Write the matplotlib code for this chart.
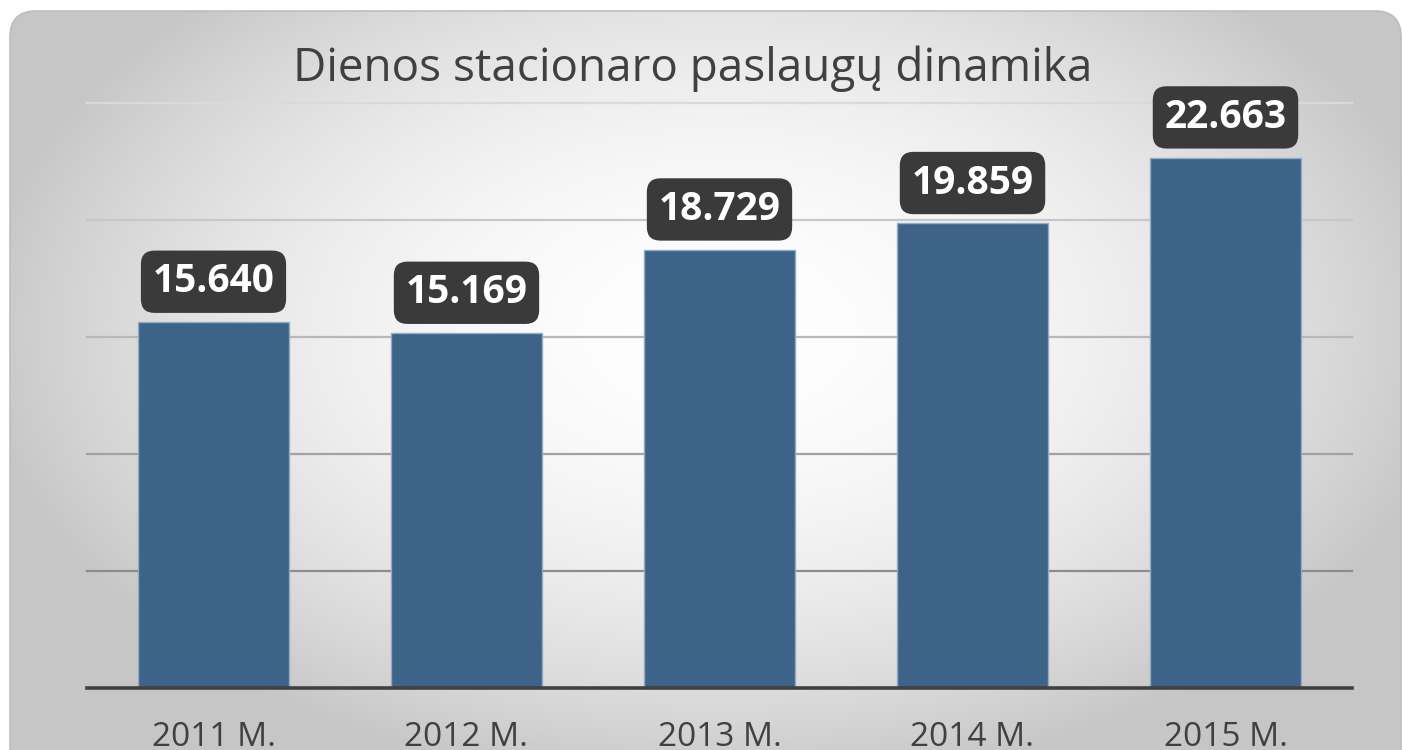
import matplotlib.pyplot as plt
import numpy as np
from matplotlib.patches import FancyBboxPatch

# data
years = ["2011 M.", "2012 M.", "2013 M.", "2014 M.", "2015 M."]
values = [15640, 15169, 18729, 19859, 22663]
labels = ["15.640", "15.169", "18.729", "19.859", "22.663"]
grid_ticks = [5000, 10000, 15000, 20000, 25000]
title = "Dienos stacionaro paslaugų dinamika"

W, H = 1403, 750
fig = plt.figure(figsize=(W / 100, H / 100), dpi=100)
fig.patch.set_facecolor("white")

# background: rounded frame with radial grey gradient
bg = fig.add_axes([0, 0, 1, 1])
bg.set_xlim(0, W)
bg.set_ylim(H, 0)
bg.axis("off")
yy, xx = np.mgrid[0:H, 0:W]
r = np.sqrt(((xx - 720) / 760.0) ** 2 + ((yy - 330) / 470.0) ** 2)
shade = np.clip(254 - 58 * r ** 2, 198, 254) / 255.0
img = bg.imshow(np.dstack([shade, shade, shade]), extent=(0, W, H, 0),
                interpolation="bilinear", zorder=0)
frame = FancyBboxPatch((10, 11), W - 12, H + 40,
                       boxstyle="round,pad=0,rounding_size=26",
                       facecolor="none", edgecolor="#bdbdbd", lw=1.2, zorder=1)
bg.add_patch(frame)
img.set_clip_path(frame)

fig.text(693 / W, 1 - 81 / H, title, ha="center", va="baseline",
         fontsize=33, color="#404040", family="Open Sans")

# main axes
x0, x1, ytop, ybase = 87, 1352, 103, 688
ax = fig.add_axes([x0 / W, 1 - ybase / H, (x1 - x0) / W, (ybase - ytop) / H])
ax.patch.set_alpha(0)
ax.set_xlim(-0.5, len(years) - 0.5)
ax.set_ylim(0, 25000)

grid_cols = ["#8c8c8c", "#a2a2a2", "#b8b8b8", "#c8c8c8", "#dadada"]
for t, c in zip(grid_ticks, grid_cols):
    ax.axhline(t, color=c, lw=1.6, zorder=1, clip_on=False)

x = np.arange(len(years))
ax.bar(x, values, width=0.6, color="#3e6388", edgecolor="#93abc4",
       linewidth=1.0, zorder=2)

for xi, v, lab in zip(x, values, labels):
    ax.annotate(lab, (xi, v), xytext=(0, 29), textcoords="offset points",
                ha="center", va="center", fontsize=28, fontweight="bold",
                color="white", family="Open Sans", zorder=4,
                bbox=dict(boxstyle="round,pad=0.3,rounding_size=0.35",
                          facecolor="#3a3a3a", edgecolor="none"))

ax.axhline(0, color="#404040", lw=2.6, zorder=3, clip_on=False)

ax.set_xticks(x)
ax.set_xticklabels(years, fontsize=24, color="#404040", family="Open Sans")
ax.set_yticks([])
ax.tick_params(axis="x", length=0, pad=24)
for s in ax.spines.values():
    s.set_visible(False)

fig.savefig("out.png", dpi=100, facecolor="white")
